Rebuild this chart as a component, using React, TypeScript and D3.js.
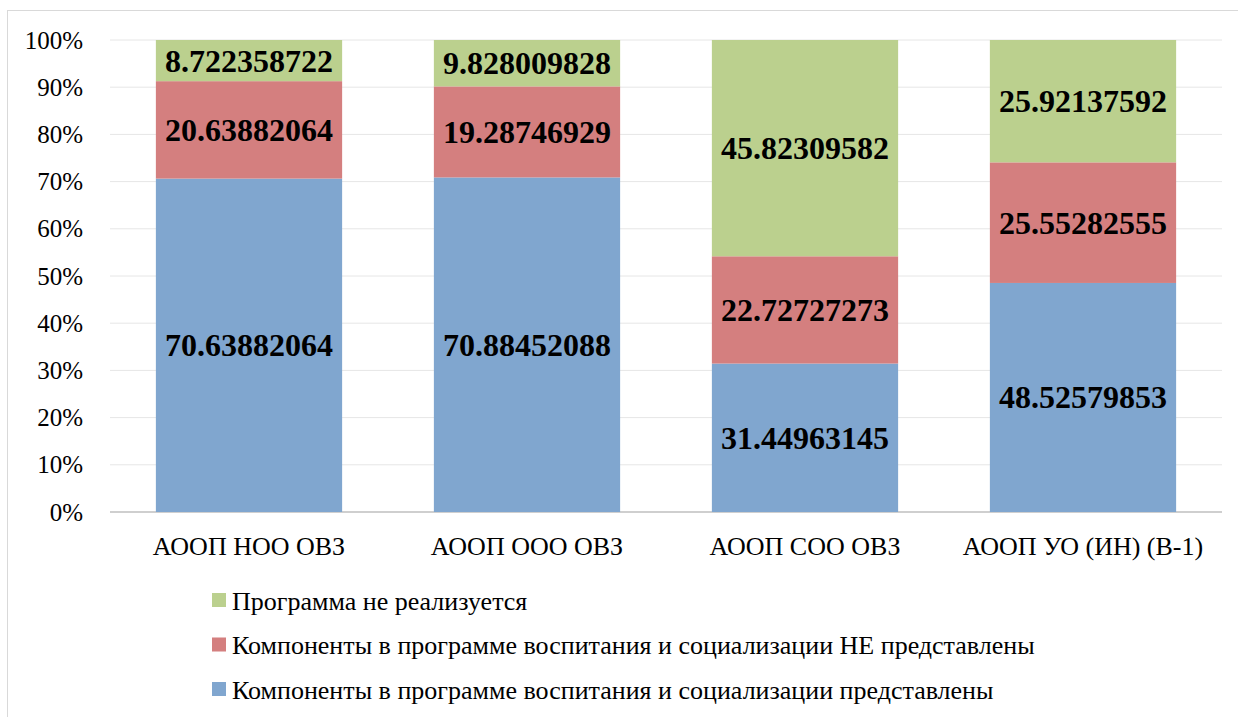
import React from "react";
import * as d3 from "d3";

const categories = ["АООП НОО ОВЗ", "АООП ООО ОВЗ", "АООП СОО ОВЗ", "АООП УО (ИН) (В-1)"];
const seriesNames = [
  "Компоненты в программе воспитания и социализации представлены",
  "Компоненты в программе воспитания и социализации НЕ представлены",
  "Программа не реализуется",
];
const presentValues = [70.63882064, 70.88452088, 31.44963145, 48.52579853];
const notPresentValues = [20.63882064, 19.28746929, 22.72727273, 25.55282555];
const notImplementedValues = [8.722358722, 9.828009828, 45.82309582, 25.92137592];
const labelTexts = [
  ["70.63882064", "70.88452088", "31.44963145", "48.52579853"],
  ["20.63882064", "19.28746929", "22.72727273", "25.55282555"],
  ["8.722358722", "9.828009828", "45.82309582", "25.92137592"],
];
const yTicks = [0, 10, 20, 30, 40, 50, 60, 70, 80, 90, 100];
const colors = ["#80a6cf", "#d47f7f", "#bbd08e"];

const W = 1238;
const H = 717;
const plot = { left: 110, right: 1222, top: 40, bottom: 512 };
const FONT = '"Liberation Serif", "DejaVu Serif", serif';

export default function App() {
  const x = d3
    .scaleBand<string>()
    .domain(categories)
    .range([plot.left, plot.right])
    .paddingInner(0.33)
    .paddingOuter(0.165);
  const y = d3.scaleLinear().domain([0, 100]).range([plot.bottom, plot.top]);

  const rows = categories.map((c, i) => ({
    cat: c,
    s0: presentValues[i],
    s1: notPresentValues[i],
    s2: notImplementedValues[i],
  }));
  const stack = d3.stack<any>().keys(["s0", "s1", "s2"]).offset(d3.stackOffsetExpand);
  const series = stack(rows);

  const legendOrder = [2, 1, 0];

  return (
    <svg
      width={W}
      height={H}
      style={{ position: "absolute", left: 0, top: 0, background: "#fff", fontFamily: FONT }}
    >
      <rect x={7.5} y={10.5} width={W} height={H} fill="#fff" stroke="#d9d9d9" strokeWidth={1} />
      {yTicks.map((t) => (
        <line
          key={"g" + t}
          x1={plot.left}
          x2={plot.right}
          y1={y(t)}
          y2={y(t)}
          stroke={t === 0 ? "#bfbfbf" : "#e6e6e6"}
          strokeWidth={t === 0 ? 1.5 : 1}
        />
      ))}
      {yTicks.map((t) => (
        <text
          key={"t" + t}
          x={83}
          y={y(t)}
          textAnchor="end"
          dominantBaseline="central"
          style={{ fontFamily: FONT, fontSize: 25 }}
          fill="#000"
        >
          {t + "%"}
        </text>
      ))}
      {series.map((s, si) =>
        s.map((d, ci) => (
          <rect
            key={si + "-" + ci}
            x={x(categories[ci])}
            width={x.bandwidth()}
            y={y(d[1] * 100)}
            height={y(d[0] * 100) - y(d[1] * 100)}
            fill={colors[si]}
          />
        ))
      )}
      {series.map((s, si) =>
        s.map((d, ci) => (
          <text
            key={"l" + si + "-" + ci}
            x={(x(categories[ci]) as number) + x.bandwidth() / 2}
            y={y(((d[0] + d[1]) / 2) * 100)}
            textAnchor="middle"
            dominantBaseline="central"
            style={{ fontFamily: FONT, fontSize: 32, fontWeight: "bold" }}
            fill="#000"
          >
            {labelTexts[si][ci]}
          </text>
        ))
      )}
      {categories.map((c) => (
        <text
          key={"c" + c}
          x={(x(c) as number) + x.bandwidth() / 2}
          y={546}
          textAnchor="middle"
          dominantBaseline="central"
          style={{ fontFamily: FONT, fontSize: 26 }}
          fill="#000"
        >
          {c}
        </text>
      ))}
      {legendOrder.map((si, k) => (
        <g key={"lg" + si} transform={`translate(212, ${593 + k * 44.5})`}>
          <rect x={0} y={0} width={14} height={14} fill={colors[si]} />
          <text
            x={20}
            y={8}
            dominantBaseline="central"
            style={{ fontFamily: FONT, fontSize: 26 }}
            fill="#000"
          >
            {seriesNames[si]}
          </text>
        </g>
      ))}
    </svg>
  );
}
